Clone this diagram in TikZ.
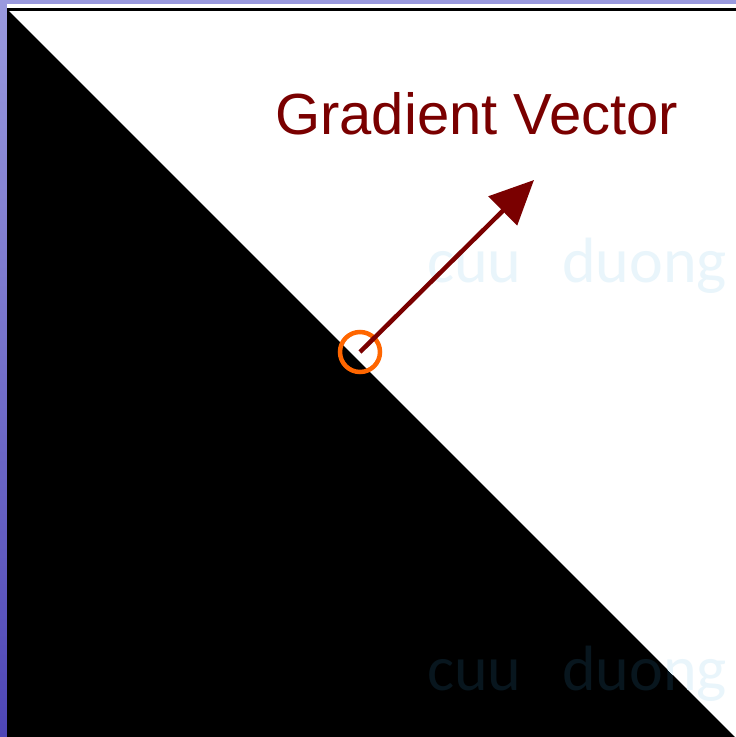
\documentclass[tikz,border=0pt]{standalone}
\usepackage{fontspec}
\setmainfont{Liberation Sans}
\newfontfamily\wmfont{Carlito}
\usetikzlibrary{arrows.meta}
\definecolor{maroon}{HTML}{7A0000}
\definecolor{orng}{HTML}{FF6600}
\definecolor{wmlight}{HTML}{E9F5FB}
\definecolor{wmdark}{HTML}{08161E}
\definecolor{bgtop}{HTML}{9A9ADE}
\definecolor{bgbot}{HTML}{4E46B6}
\tikzset{
  wm/.style={inner sep=0pt, anchor=base west, font=\wmfont\fontsize{64}{64}\selectfont},
  label/.style={inner sep=0pt, anchor=base west, text=maroon, font=\fontsize{58}{58}\selectfont},
  ring/.style={circle, draw=orng, line width=4.5pt, minimum size=40pt, inner sep=0pt},
  vec/.style={draw=maroon, line width=4.5pt, -{Triangle[length=44pt,width=40pt]}}
}
\begin{document}
\begin{tikzpicture}[x=1pt,y=-1pt]
\useasboundingbox (0,0) rectangle (736,737);
\shade[top color=bgtop, bottom color=bgbot] (0,0) rectangle (736,737);
\fill[white] (7,4) rectangle (736,737);
\fill[black] (7,8) rectangle (736,11);
\fill[black] (7,9) -- (735,737) -- (7,737) -- cycle;
% watermarks
\begin{scope}
\clip (7,9) -- (735,737) -- (7,737) -- cycle;
\node[wm, text=wmdark] (wmA) at (427,690) {cuu};
\node[wm, text=wmdark] (wmB) at (562,690) {duong};
\end{scope}
\begin{scope}
\clip (7,9) -- (736,9) -- (736,737) -- (735,737) -- cycle;
\node[wm, text=wmlight] (wmC) at (427,282) {cuu};
\node[wm, text=wmlight] (wmD) at (562,282) {duong};
\node[wm, text=wmlight] (wmE) at (427,690) {cuu};
\node[wm, text=wmlight] (wmF) at (562,690) {duong};
\end{scope}
\node[label] (title) at (275,134) {Gradient Vector};
\node[ring] (pt) at (360,352) {};
\coordinate (tip) at (534,180);
\draw[vec] (pt.center) -- (tip);
\end{tikzpicture}
\end{document}
